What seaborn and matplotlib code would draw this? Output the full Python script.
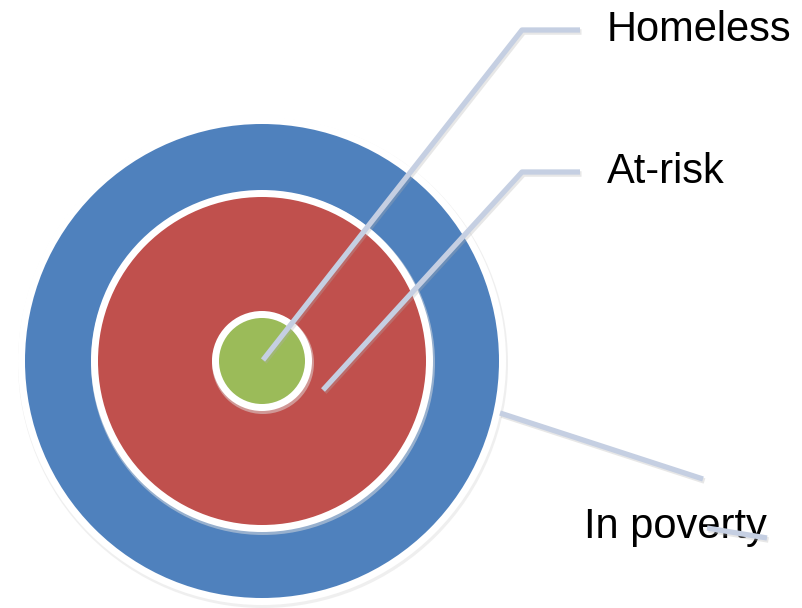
import matplotlib
matplotlib.use("Agg")
import matplotlib.pyplot as plt
import matplotlib.patches as mpatches
import seaborn as sns

sns.set_style("white")
plt.rcParams["font.family"] = ["Liberation Sans", "DejaVu Sans"]

# --- data ---
groups = ["In poverty", "At-risk", "Homeless"]
radii = [237, 164, 43]
colors = ["#4f81bd", "#c0504d", "#9bbb59"]

# --- layout (pixel space) ---
cx, cy = 262, 361
line_color = "#c5cfe2"
shadow_color = "#b0b0b0"

fig = plt.figure(figsize=(8.02, 6.08), dpi=100)
ax = fig.add_axes([0, 0, 1, 1])
ax.set_xlim(0, 802)
ax.set_ylim(608, 0)
ax.set_aspect("equal")
ax.axis("off")

# rings, outermost first, with white border and faint shadow
for r, c in zip(radii, colors):
    ax.add_patch(mpatches.Circle((cx + 1, cy + 2), r + 8, color="#e0e0e0", alpha=0.5, lw=0))
    ax.add_patch(mpatches.Circle((cx, cy), r + 7, color="white", lw=0))
    ax.add_patch(mpatches.Circle((cx, cy), r, color=c, lw=0))


def leader(xs, ys, z=2):
    ax.plot([x + 1.5 for x in xs], [y + 2 for y in ys], color=shadow_color,
            lw=4, alpha=0.3, solid_capstyle="butt", zorder=z)
    ax.plot(xs, ys, color=line_color, lw=3.8, solid_capstyle="butt", zorder=z)


# Homeless
leader([263, 522, 580], [360, 30, 30])
ax.text(607, 30, groups[2], fontsize=30, va="center", ha="left", color="black")

# At-risk
leader([323, 522, 580], [390, 172, 172])
ax.text(607, 172, groups[1], fontsize=30, va="center", ha="left", color="black")

# In poverty
leader([500, 703], [413, 479])
ax.text(584, 527, groups[0], fontsize=30, va="center", ha="left", color="black")
leader([707, 767], [528, 538], z=4)

fig.savefig("out.png", dpi=100)
